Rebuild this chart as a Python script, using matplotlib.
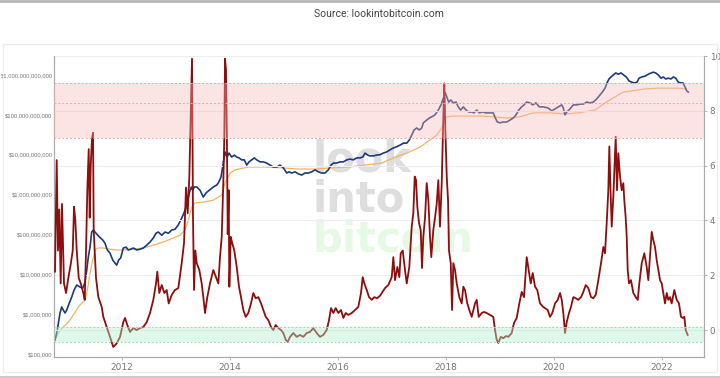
import numpy as np
import matplotlib
matplotlib.use("Agg")
import matplotlib.pyplot as plt
from matplotlib.ticker import FixedLocator, FuncFormatter
from matplotlib import font_manager

# ---------------- data ----------------
# MVRV Z-score (right axis)
z_years = [2010.765, 2010.796, 2010.82, 2010.844, 2010.87, 2010.894, 2010.931, 2010.969, 2011.011, 2011.056,
           2011.093, 2011.117, 2011.141, 2011.167, 2011.204, 2011.241, 2011.289, 2011.315, 2011.339, 2011.363,
           2011.389, 2011.407, 2011.426, 2011.45, 2011.469, 2011.481, 2011.5, 2011.524, 2011.567, 2011.63,
           2011.659, 2011.722, 2011.783, 2011.844, 2011.907, 2011.969, 2012.03, 2012.061, 2012.104, 2012.154,
           2012.215, 2012.278, 2012.339, 2012.4, 2012.463, 2012.524, 2012.585, 2012.635, 2012.659, 2012.696,
           2012.741, 2012.789, 2012.833, 2012.87, 2012.926, 2012.987, 2013.048, 2013.111, 2013.154, 2013.191,
           2013.222, 2013.252, 2013.278, 2013.302, 2013.32, 2013.339, 2013.363, 2013.389, 2013.437, 2013.481,
           2013.511, 2013.543, 2013.585, 2013.635, 2013.696, 2013.789, 2013.82, 2013.852, 2013.881, 2013.9,
           2013.913, 2013.931, 2013.95, 2013.963, 2013.981, 2013.993, 2014.019, 2014.048, 2014.085, 2014.13,
           2014.172, 2014.209, 2014.252, 2014.296, 2014.344, 2014.394, 2014.437, 2014.481, 2014.53, 2014.58,
           2014.622, 2014.667, 2014.715, 2014.765, 2014.807, 2014.852, 2014.9, 2014.95, 2014.993, 2015.037,
           2015.074, 2015.117, 2015.178, 2015.241, 2015.302, 2015.363, 2015.426, 2015.487, 2015.548, 2015.611,
           2015.672, 2015.733, 2015.796, 2015.839, 2015.876, 2015.919, 2015.963, 2016.011, 2016.061, 2016.104,
           2016.148, 2016.196, 2016.259, 2016.32, 2016.381, 2016.431, 2016.463, 2016.493, 2016.537, 2016.58,
           2016.63, 2016.678, 2016.728, 2016.783, 2016.876, 2016.937, 2017.0, 2017.03, 2017.061, 2017.104,
           2017.141, 2017.167, 2017.204, 2017.246, 2017.278, 2017.326, 2017.37, 2017.4, 2017.426, 2017.45,
           2017.474, 2017.506, 2017.537, 2017.561, 2017.585, 2017.617, 2017.648, 2017.678, 2017.709, 2017.733,
           2017.77, 2017.802, 2017.833, 2017.863, 2017.894, 2017.926, 2017.956, 2017.974, 2017.993, 2018.019,
           2018.043, 2018.061, 2018.093, 2018.117, 2018.141, 2018.172, 2018.204, 2018.252, 2018.296, 2018.326,
           2018.357, 2018.4, 2018.437, 2018.481, 2018.543, 2018.574, 2018.611, 2018.667, 2018.709, 2018.759,
           2018.82, 2018.881, 2018.913, 2018.944, 2018.974, 2019.019, 2019.067, 2019.117, 2019.159, 2019.222,
           2019.265, 2019.315, 2019.363, 2019.407, 2019.45, 2019.5, 2019.537, 2019.574, 2019.611, 2019.654,
           2019.696, 2019.746, 2019.807, 2019.889, 2019.931, 2019.974, 2020.024, 2020.074, 2020.117, 2020.148,
           2020.178, 2020.209, 2020.241, 2020.283, 2020.32, 2020.363, 2020.407, 2020.456, 2020.506, 2020.548,
           2020.593, 2020.641, 2020.691, 2020.733, 2020.778, 2020.826, 2020.876, 2020.919, 2020.95, 2020.981,
           2021.011, 2021.03, 2021.048, 2021.074, 2021.104, 2021.13, 2021.148, 2021.172, 2021.196, 2021.228,
           2021.259, 2021.289, 2021.307, 2021.333, 2021.352, 2021.37, 2021.394, 2021.431, 2021.474, 2021.519,
           2021.556, 2021.585, 2021.63, 2021.678, 2021.722, 2021.752, 2021.783, 2021.815, 2021.844, 2021.876,
           2021.907, 2021.937, 2021.969, 2022.0, 2022.03, 2022.061, 2022.093, 2022.122, 2022.154, 2022.185,
           2022.233, 2022.278, 2022.32, 2022.357, 2022.394, 2022.419, 2022.444, 2022.481]
z_score = [2.13, 6.2, 2.9, 4.4, 1.7, 4.6, 1.7, 1.35, 1.9, 2.4,
           2.9, 4.5, 4.0, 2.9, 1.9, 1.7, 1.35, 1.1, 2.9, 5.1,
           6.6, 4.1, 6.0, 7.0, 7.2, 3.65, 2.9, 1.9, 1.2, 0.84,
           0.48, 0.11, -0.25, -0.62, -0.49, -0.25, 0.29, 0.44, 0.18, -0.07,
           0.07, 0.0, 0.07, 0.11, 0.29, 0.62, 1.1, 1.7, 2.13, 1.35,
           1.64, 1.35, 1.46, 0.97, 1.28, 1.46, 1.53, 2.44, 3.18, 5.2,
           4.26, 5.6, 7.8, 9.9, 4.1, 1.46, 2.9, 2.44, 2.19, 1.7,
           1.2, 0.62, 1.2, 1.7, 2.19, 1.7, 2.66, 3.4, 5.36, 7.05,
           9.9, 9.5, 6.6, 3.5, 5.1, 1.58, 3.4, 3.16, 2.9, 2.3,
           1.58, 1.2, 0.73, 0.48, 0.62, 0.97, 1.35, 1.16, 1.2, 0.97,
           0.73, 0.48, 0.36, 0.11, 0.0, 0.18, 0.07, 0.0, -0.11, -0.36,
           -0.43, -0.25, -0.11, -0.25, -0.18, -0.25, -0.11, -0.07, 0.07, -0.11,
           -0.25, -0.18, 0.0, 0.36, 0.8, 0.62, 0.8, 0.62, 0.73, 0.44,
           0.62, 0.55, 0.62, 0.73, 0.84, 1.35, 1.93, 1.7, 1.46, 1.2,
           1.1, 1.2, 1.16, 1.25, 1.53, 1.64, 1.93, 2.66, 1.82, 2.3,
           1.93, 2.8, 2.9, 2.19, 1.7, 2.3, 3.77, 4.26, 5.6, 5.47,
           4.5, 3.9, 3.65, 2.26, 3.4, 4.1, 5.36, 4.74, 3.4, 2.66,
           3.65, 4.1, 4.6, 5.47, 3.77, 5.36, 7.8, 9.0, 7.3, 5.6,
           4.74, 2.9, 2.44, 0.73, 2.44, 2.19, 1.7, 1.2, 0.97, 1.58,
           1.46, 0.97, 0.73, 0.48, 0.97, 1.1, 0.48, 0.62, 0.66, 0.62,
           0.55, 0.48, 0.0, -0.36, -0.47, -0.25, -0.3, -0.22, -0.25, -0.11,
           0.26, 0.44, 0.97, 1.39, 1.2, 2.66, 2.19, 1.7, 2.08, 1.58,
           1.46, 0.97, 0.84, 0.73, 0.48, 0.62, 0.97, 1.1, 1.35, 1.1,
           0.62, -0.11, 0.29, 0.62, 0.84, 1.2, 1.16, 1.1, 1.2, 1.39,
           1.64, 1.53, 1.2, 1.16, 1.28, 1.82, 2.44, 3.03, 2.8, 3.9,
           5.1, 6.7, 5.36, 3.77, 4.87, 6.2, 7.05, 5.1, 6.45, 5.6,
           5.1, 5.36, 4.74, 4.1, 3.4, 2.19, 1.7, 1.82, 1.35, 1.2,
           1.1, 1.7, 2.44, 2.8, 2.3, 1.82, 2.66, 3.58, 3.28, 3.03,
           2.55, 2.19, 1.82, 1.7, 1.35, 0.97, 1.35, 1.1, 1.2, 0.97,
           1.46, 1.1, 0.97, 0.48, 0.44, 0.48, 0.0, -0.18]

# Market cap (left axis, log10 USD)
mc_years = [2010.765, 2010.807, 2010.857, 2010.889, 2010.919, 2010.95, 2010.981, 2011.03, 2011.074, 2011.117,
            2011.167, 2011.228, 2011.278, 2011.315, 2011.352, 2011.381, 2011.413, 2011.444, 2011.474, 2011.524,
            2011.585, 2011.648, 2011.691, 2011.733, 2011.783, 2011.833, 2011.876, 2011.907, 2011.944, 2011.981,
            2012.03, 2012.08, 2012.122, 2012.167, 2012.215, 2012.278, 2012.339, 2012.4, 2012.463, 2012.524,
            2012.585, 2012.635, 2012.678, 2012.741, 2012.802, 2012.863, 2012.926, 2012.987, 2013.048, 2013.111,
            2013.154, 2013.191, 2013.222, 2013.252, 2013.289, 2013.315, 2013.344, 2013.389, 2013.45, 2013.511,
            2013.561, 2013.622, 2013.696, 2013.759, 2013.789, 2013.839, 2013.881, 2013.913, 2013.95, 2013.987,
            2014.037, 2014.085, 2014.13, 2014.172, 2014.222, 2014.27, 2014.315, 2014.357, 2014.407, 2014.456,
            2014.5, 2014.561, 2014.622, 2014.685, 2014.746, 2014.807, 2014.87, 2014.931, 2014.993, 2015.056,
            2015.098, 2015.148, 2015.209, 2015.27, 2015.333, 2015.394, 2015.456, 2015.519, 2015.58, 2015.641,
            2015.704, 2015.765, 2015.826, 2015.876, 2015.919, 2015.981, 2016.043, 2016.104, 2016.167, 2016.228,
            2016.289, 2016.352, 2016.413, 2016.463, 2016.506, 2016.556, 2016.598, 2016.659, 2016.722, 2016.783,
            2016.844, 2016.907, 2016.969, 2017.03, 2017.093, 2017.154, 2017.215, 2017.278, 2017.326, 2017.37,
            2017.413, 2017.463, 2017.511, 2017.556, 2017.585, 2017.648, 2017.696, 2017.741, 2017.802, 2017.863,
            2017.913, 2017.956, 2017.993, 2018.019, 2018.056, 2018.093, 2018.141, 2018.191, 2018.233, 2018.278,
            2018.326, 2018.376, 2018.426, 2018.481, 2018.524, 2018.574, 2018.622, 2018.685, 2018.746, 2018.82,
            2018.881, 2018.919, 2018.956, 2019.006, 2019.067, 2019.13, 2019.191, 2019.252, 2019.302, 2019.352,
            2019.407, 2019.45, 2019.5, 2019.561, 2019.611, 2019.672, 2019.733, 2019.807, 2019.9, 2019.963,
            2020.024, 2020.085, 2020.148, 2020.178, 2020.209, 2020.241, 2020.302, 2020.363, 2020.426, 2020.487,
            2020.548, 2020.611, 2020.672, 2020.733, 2020.796, 2020.857, 2020.9, 2020.95, 2020.987, 2021.024,
            2021.061, 2021.104, 2021.148, 2021.196, 2021.246, 2021.296, 2021.344, 2021.394, 2021.444, 2021.493,
            2021.543, 2021.58, 2021.63, 2021.691, 2021.752, 2021.802, 2021.844, 2021.889, 2021.937, 2021.987,
            2022.03, 2022.074, 2022.122, 2022.172, 2022.215, 2022.259, 2022.307, 2022.357, 2022.394, 2022.431,
            2022.463, 2022.493]
mc_log10 = [5.35, 5.6, 6.03, 6.18, 6.1, 6.03, 6.1, 6.28, 6.43, 6.6,
            6.73, 6.68, 6.65, 6.78, 7.1, 7.43, 7.68, 8.06, 8.11, 8.03,
            7.94, 7.86, 7.78, 7.61, 7.53, 7.36, 7.28, 7.23, 7.36, 7.41,
            7.66, 7.68, 7.61, 7.63, 7.66, 7.61, 7.63, 7.66, 7.73, 7.81,
            7.91, 8.03, 8.06, 7.98, 8.06, 8.03, 8.11, 8.13, 8.24, 8.41,
            8.54, 8.69, 8.86, 9.04, 9.19, 9.11, 9.19, 9.19, 9.11, 8.94,
            9.04, 9.11, 9.19, 9.24, 9.29, 9.44, 9.79, 10.07, 9.94, 10.04,
            9.94, 9.99, 9.94, 9.92, 9.87, 9.87, 9.74, 9.82, 9.87, 9.92,
            9.87, 9.82, 9.82, 9.79, 9.74, 9.69, 9.69, 9.74, 9.67, 9.54,
            9.57, 9.54, 9.57, 9.52, 9.49, 9.54, 9.54, 9.57, 9.62, 9.57,
            9.54, 9.54, 9.62, 9.74, 9.79, 9.79, 9.82, 9.82, 9.87, 9.89,
            9.87, 9.92, 9.92, 9.94, 10.04, 9.99, 9.97, 9.97, 9.99, 10.0,
            10.04, 10.07, 10.12, 10.17, 10.2, 10.24, 10.29, 10.29, 10.37, 10.49,
            10.62, 10.67, 10.62, 10.67, 10.8, 10.87, 10.92, 10.95, 11.0, 11.12,
            11.25, 11.42, 11.55, 11.45, 11.32, 11.37, 11.3, 11.32, 11.2, 11.12,
            11.2, 11.12, 11.07, 11.07, 11.05, 11.12, 11.05, 11.07, 11.05, 11.05,
            11.05, 10.92, 10.82, 10.8, 10.82, 10.82, 10.87, 10.92, 11.0, 11.12,
            11.2, 11.25, 11.32, 11.3, 11.25, 11.3, 11.2, 11.2, 11.17, 11.1,
            11.15, 11.2, 11.25, 11.17, 11.0, 11.07, 11.15, 11.25, 11.25, 11.27,
            11.27, 11.32, 11.3, 11.32, 11.4, 11.5, 11.57, 11.67, 11.8, 11.9,
            11.95, 12.0, 12.05, 12.02, 12.05, 12.0, 11.95, 11.85, 11.82, 11.8,
            11.82, 11.92, 11.95, 11.97, 12.02, 12.05, 12.07, 12.05, 12.0, 11.92,
            11.95, 11.9, 11.92, 11.9, 11.95, 11.92, 11.82, 11.8, 11.8, 11.7,
            11.6, 11.57]

# Realized cap (left axis, log10 USD)
rc_years = [2010.765, 2010.826, 2010.919, 2011.011, 2011.104, 2011.196, 2011.259, 2011.32, 2011.363, 2011.413,
            2011.463, 2011.506, 2011.567, 2011.659, 2011.783, 2011.907, 2012.03, 2012.215, 2012.4, 2012.585,
            2012.77, 2012.956, 2013.08, 2013.172, 2013.233, 2013.296, 2013.357, 2013.511, 2013.696, 2013.852,
            2013.913, 2014.006, 2014.098, 2014.344, 2014.654, 2014.963, 2015.27, 2015.58, 2015.889, 2016.196,
            2016.506, 2016.815, 2017.03, 2017.278, 2017.524, 2017.709, 2017.833, 2017.926, 2017.987, 2018.019,
            2018.141, 2018.389, 2018.635, 2018.881, 2019.13, 2019.376, 2019.622, 2019.931, 2020.209, 2020.456,
            2020.765, 2020.95, 2021.135, 2021.289, 2021.444, 2021.691, 2021.937, 2022.307, 2022.463]
rc_log10 = [5.35, 5.53, 5.68, 5.8, 5.98, 6.18, 6.28, 6.35, 6.6, 7.03,
            7.36, 7.61, 7.66, 7.66, 7.63, 7.61, 7.61, 7.63, 7.66, 7.73,
            7.81, 7.91, 7.98, 8.11, 8.36, 8.69, 8.79, 8.81, 8.86, 8.99,
            9.29, 9.54, 9.62, 9.69, 9.69, 9.67, 9.64, 9.64, 9.67, 9.69,
            9.74, 9.79, 9.92, 10.04, 10.19, 10.37, 10.49, 10.67, 10.87, 10.95,
            10.97, 10.97, 10.97, 10.95, 10.92, 10.95, 11.05, 11.05, 11.02, 11.05,
            11.12, 11.3, 11.45, 11.57, 11.6, 11.65, 11.67, 11.67, 11.65]

left_ticks = [1e5, 1e6, 1e7, 1e8, 1e9, 1e10, 1e11, 1e12]
right_ticks = [0, 2, 4, 6, 8, 10]
year_ticks = [2012, 2014, 2016, 2018, 2020, 2022]
red_band = (7.0, 9.0)
green_band = (-0.43, 0.1)
title = "Source: lookintobitcoin.com"

# ---------------- figure ----------------
W, H, DPI = 720, 378, 100
fig = plt.figure(figsize=(W / DPI, H / DPI), dpi=DPI)
fig.patch.set_facecolor("white")

# outer light frame and top/bottom grey rules
fig.add_artist(plt.Rectangle((3 / W, 1 - 372 / H), 714 / W, 328 / H, transform=fig.transFigure,
                             fill=False, edgecolor="#ececec", linewidth=0.8))
fig.add_artist(plt.Line2D([0, 1], [1 - 1 / H, 1 - 1 / H], transform=fig.transFigure, color="#b8b8b8", lw=2))
fig.add_artist(plt.Line2D([0, 1], [1 / H, 1 / H], transform=fig.transFigure, color="#c8c8c8", lw=2))

ax = fig.add_axes([54 / W, 1 - 357 / H, 650 / W, 301 / H])
ax2 = ax.twinx()

ax.set_xlim(2010.746, 2022.783)
ax.set_yscale("log")
ax.set_ylim(10 ** 4.925, 10 ** 12.476)
ax2.set_ylim(-0.985, 10.0)

# grid lines from the right axis
for t in right_ticks:
    ax2.axhline(t, color="#ededed", lw=0.8, zorder=0)

# watermark
wm_font = dict(fontsize=30, fontweight="bold", family="DejaVu Sans", transform=ax.transAxes,
               ha="left", va="baseline", zorder=0.5)
ax.text((313 - 54) / 650, (357 - 172) / 301, "look", color="#dedede", **wm_font)
ax.text((313 - 54) / 650, (357 - 212) / 301, "into", color="#dedede", **wm_font)
ax.text((313 - 54) / 650, (357 - 251) / 301, "bitcoin", color="#e5f9e5", **wm_font)

ax.plot(rc_years, 10 ** np.array(rc_log10), color="#f5b363", lw=0.9, zorder=3)
ax.plot(mc_years, 10 ** np.array(mc_log10), color="#1c3a78", lw=1.2, zorder=4)
ax2.plot(z_years, z_score, color="#8e0d0d", lw=1.3, zorder=5)

# bands over the lines
ax2.axhspan(*red_band, color="#f9b8b8", alpha=0.38, lw=0, zorder=6)
ax2.axhspan(*green_band, color="#b2efcf", alpha=0.42, lw=0, zorder=6)
for yv in (red_band[0], 8.27, red_band[1]):
    ax2.axhline(yv, color="#f0a8a8", lw=0.7, ls=(0, (2, 2)), zorder=6.5)
for yv in green_band:
    ax2.axhline(yv, color="#9fd9b6", lw=0.7, ls=(0, (2, 2)), zorder=6.5)

# axes styling
tick_color = "#777777"
for a in (ax, ax2):
    a.set_facecolor("none")
    a.spines["top"].set_visible(False)
    for s in ("left", "right", "bottom"):
        a.spines[s].set_color("#aaaaaa")
        a.spines[s].set_linewidth(0.8)
ax.patch.set_visible(False)

installed = {f.name for f in font_manager.fontManager.ttflist}
left_family = ["Liberation Sans Narrow"] if "Liberation Sans Narrow" in installed else ["Liberation Sans"]
left_size = 5.0 if "Liberation Sans Narrow" in installed else 4.2

ax.yaxis.set_major_locator(FixedLocator(left_ticks))
ax.yaxis.set_minor_locator(FixedLocator([]))
ax.yaxis.set_major_formatter(FuncFormatter(lambda v, p: "${:,.0f}".format(v)))
ax.tick_params(axis="y", length=0, pad=1, labelsize=left_size, labelcolor=tick_color)
for lab in ax.get_yticklabels():
    lab.set_family(left_family)

ax2.yaxis.set_major_locator(FixedLocator(right_ticks))
ax2.tick_params(axis="y", length=2, width=0.6, color="#aaaaaa", pad=2, labelsize=6.3, labelcolor=tick_color)

ax.xaxis.set_major_locator(FixedLocator(year_ticks))
ax.xaxis.set_major_formatter(FuncFormatter(lambda v, p: "%d" % v))
ax.tick_params(axis="x", length=2, width=0.6, color="#aaaaaa", pad=2, labelsize=6.5, labelcolor=tick_color)

fig.text(379 / W, 1 - 14 / H, title, ha="center", va="center", fontsize=7.5, color="#444444", family="Roboto")

fig.savefig("out.png", dpi=DPI, facecolor="white")
